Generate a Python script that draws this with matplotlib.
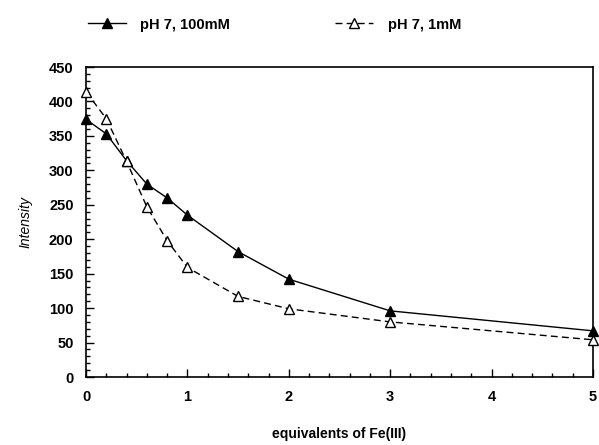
import numpy as np
import matplotlib.pyplot as plt
from matplotlib.ticker import MultipleLocator

plt.rcParams['font.family'] = ['Liberation Sans', 'DejaVu Sans']

equiv = [0, 0.2, 0.4, 0.6, 0.8, 1, 1.5, 2, 3, 5]
int_100mM = [374, 353, 314, 280, 260, 235, 182, 142, 96, 67]
int_1mM = [414, 375, 313, 247, 198, 159, 117, 99, 80, 54]

fig = plt.figure(figsize=(5.99, 4.45), dpi=100)
ax = fig.add_axes([0.1436, 0.1528, 0.8464, 0.6966])

ax.plot(equiv, int_100mM, color='black', lw=1.0, marker='^', ms=7,
        mfc='black', mec='black', label='pH 7, 100mM', clip_on=False, zorder=3)
ax.plot(equiv, int_1mM, color='black', lw=1.0, ls=(0, (5, 3)), marker='^', ms=7,
        mfc='white', mec='black', label='pH 7, 1mM', clip_on=False, zorder=3)

ax.set_xlim(0, 5)
ax.set_ylim(0, 450)
ax.xaxis.set_major_locator(MultipleLocator(1))
ax.xaxis.set_minor_locator(MultipleLocator(0.2))
ax.yaxis.set_major_locator(MultipleLocator(50))
ax.yaxis.set_minor_locator(MultipleLocator(10))
ax.tick_params(which='both', direction='in', top=False, right=False,
               labelsize=10.5, width=1.0)
ax.tick_params(which='major', length=6, pad=9)
ax.tick_params(which='minor', length=3)
for lab in ax.get_xticklabels() + ax.get_yticklabels():
    lab.set_fontweight('bold')
for s in ax.spines.values():
    s.set_linewidth(1.2)

ax.set_ylabel('Intensity', fontsize=10, style='italic', labelpad=12)
ax.set_xlabel('equivalents of Fe(III)', fontsize=10, fontweight='bold', labelpad=17)

fig.legend(loc='upper left', bbox_to_anchor=(0.125, 0.99), ncol=2, frameon=False,
           handlelength=2.6, columnspacing=7.2, handletextpad=1.0,
           prop={'weight': 'bold', 'size': 10.5})

fig.savefig('out.png', dpi=100)
